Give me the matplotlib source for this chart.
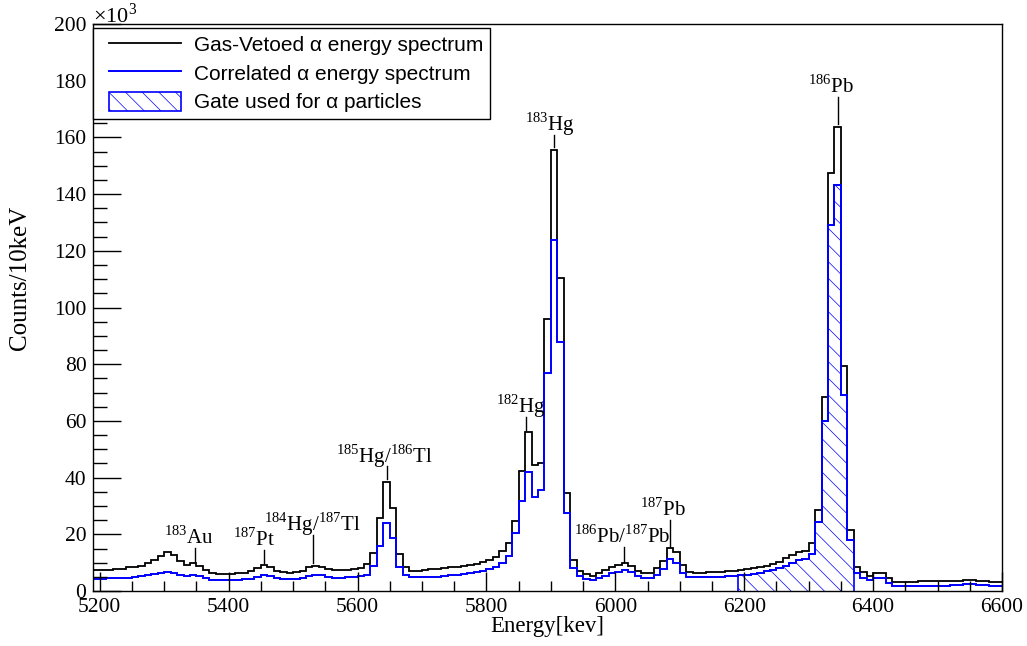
import numpy as np
import matplotlib.pyplot as plt
from matplotlib.lines import Line2D
from matplotlib.patches import Patch
from matplotlib.legend_handler import HandlerLine2D, HandlerPatch
from matplotlib.ticker import MultipleLocator

plt.rcParams['font.family'] = ['Liberation Serif', 'DejaVu Serif']
plt.rcParams['mathtext.fontset'] = 'custom'
plt.rcParams['mathtext.rm'] = 'Liberation Serif'
plt.rcParams['hatch.color'] = 'blue'
plt.rcParams['hatch.linewidth'] = 0.5

# 10 keV bins from 5190 to 6600 keV, counts in units of 10^3
e_lo, e_hi, bin_w = 5190, 6600, 10
gas_vetoed = [
    7.3, 7.4, 7.5, 7.7, 7.9, 8.3, 8.6, 9.0, 9.8, 10.9,        # 5190-5280
    12.5, 13.9, 12.7, 10.5, 9.2, 9.8, 9.0, 7.5, 6.3, 6.1,     # 5290-5380
    6.1, 6.1, 6.2, 6.5, 7.0, 8.0, 9.1, 8.3, 7.2, 6.6,         # 5390-5480
    6.5, 6.6, 7.2, 8.5, 9.0, 8.5, 7.8, 7.5, 7.4, 7.5,         # 5490-5580
    7.6, 8.0, 9.5, 13.5, 25.8, 38.3, 29.3, 13.2, 8.4, 7.2,    # 5590-5680
    7.2, 7.4, 7.6, 7.8, 8.0, 8.3, 8.6, 8.9, 9.3, 9.7,         # 5690-5780
    10.2, 11.0, 12.1, 14.0, 16.8, 24.8, 42.4, 56.0, 44.3, 45.3,  # 5790-5880
    96.0, 155.6, 110.4, 34.5, 10.9, 7.2, 6.0, 5.3, 6.2, 7.4,  # 5890-5980
    8.6, 9.2, 9.8, 8.9, 7.2, 6.2, 6.5, 8.0, 10.6, 15.1,       # 5990-6080
    13.6, 9.2, 6.8, 6.5, 6.5, 6.6, 6.7, 6.8, 7.0, 7.2,        # 6090-6180
    7.4, 7.7, 8.0, 8.3, 8.8, 9.4, 10.4, 11.6, 12.8, 13.6,     # 6190-6280
    14.2, 16.8, 28.5, 68.5, 147.5, 163.6, 79.4, 21.7, 8.5, 6.8,  # 6290-6380
    5.3, 6.2, 6.2, 4.5, 3.3, 3.3, 3.3, 3.3, 3.4, 3.4,         # 6390-6480
    3.4, 3.5, 3.5, 3.6, 3.7, 3.8, 3.8, 3.6, 3.4, 3.2,         # 6490-6580
    3.1,                                                      # 6590
]
correlated = [
    4.4, 4.4, 4.5, 4.5, 4.6, 4.7, 4.9, 5.2, 5.6, 5.9,
    6.4, 6.8, 6.3, 5.6, 5.2, 5.7, 5.4, 4.5, 4.0, 3.9,
    3.9, 3.9, 4.0, 4.1, 4.3, 4.9, 5.6, 5.2, 4.5, 4.2,
    4.2, 4.3, 4.6, 5.3, 5.8, 5.5, 5.0, 4.7, 4.7, 4.8,
    4.9, 5.2, 5.6, 8.9, 15.9, 23.9, 18.6, 8.6, 5.6, 5.0,
    4.9, 4.9, 5.0, 5.1, 5.3, 5.5, 5.7, 6.0, 6.3, 6.7,
    7.2, 7.6, 8.5, 9.8, 12.2, 20.5, 31.9, 42.1, 33.1, 35.7,
    76.8, 123.9, 88.0, 27.4, 8.0, 5.3, 4.2, 3.9, 4.5, 5.3,
    6.2, 6.8, 7.4, 6.8, 5.3, 4.5, 4.6, 5.6, 7.6, 11.2,
    10.0, 6.5, 5.1, 4.8, 4.8, 4.9, 5.0, 5.1, 5.3, 5.4,
    5.6, 5.8, 6.1, 6.5, 7.0, 7.5, 8.2, 9.0, 9.9, 10.8,
    11.3, 13.0, 24.2, 59.9, 129.2, 143.2, 69.2, 18.0, 6.3, 4.7,
    3.9, 4.5, 4.5, 2.7, 1.8, 1.8, 1.8, 1.8, 1.8, 1.8,
    1.8, 1.9, 1.9, 2.0, 2.2, 2.4, 2.4, 2.2, 2.0, 1.8,
    1.8,
]
gate_lo, gate_hi = 6190, 6370

# peak labels: text, marker energy, text centre energy, marker bottom, marker top
peak_labels = [
    (r'$^{183}$Au', 5347, 5338, 10.2, 15.2),
    (r'$^{187}$Pt', 5455, 5439, 9.9, 14.5),
    (r'$^{184}$Hg/$^{187}$Tl', 5531, 5530, 9.9, 19.8),
    (r'$^{185}$Hg/$^{186}$Tl', 5645, 5641, 39.5, 44.1),
    (r'$^{182}$Hg', 5862, 5854, 56.8, 61.4),
    (r'$^{183}$Hg', 5905, 5899, 156.7, 161.0),
    (r'$^{186}$Pb/$^{187}$Pb', 6014, 6011, 10.3, 15.6),
    (r'$^{187}$Pb', 6085, 6074, 15.6, 25.1),
    (r'$^{186}$Pb', 6345, 6334, 164.8, 174.4),
]

edges = np.arange(e_lo, e_hi + bin_w, bin_w)
gas_vetoed = np.array(gas_vetoed)
correlated = np.array(correlated)

fig = plt.figure(figsize=(10.27, 6.46), dpi=100)
ax = fig.add_axes([0.0909, 0.0851, 0.8848, 0.8777])

# hatched gate under the correlated spectrum
in_gate = (edges[:-1] >= gate_lo) & (edges[:-1] < gate_hi)
gate_edges = np.append(edges[:-1][in_gate], gate_hi)
ax.stairs(correlated[in_gate], gate_edges, baseline=0, fill=True,
          facecolor='none', edgecolor='blue', hatch='\\\\', linewidth=1.2)

ax.stairs(gas_vetoed, edges, baseline=None, color='black', linewidth=1.3)
ax.stairs(correlated, edges, baseline=None, color='blue', linewidth=1.4)

for text, e_mark, e_text, y0, y1 in peak_labels:
    ax.plot([e_mark, e_mark], [y0, y1], color='black', linewidth=1.0)
    ax.text(e_text, y1 + 1.3, text, ha='center', va='baseline', fontsize=15)

ax.set_xlim(e_lo, e_hi)
ax.set_ylim(0, 200)
ax.xaxis.set_major_locator(MultipleLocator(200))
ax.xaxis.set_minor_locator(MultipleLocator(50))
ax.yaxis.set_major_locator(MultipleLocator(20))
ax.yaxis.set_minor_locator(MultipleLocator(5))
ax.tick_params(axis='both', which='both', direction='in', labelsize=15.5,
               top=False, right=False, width=1.0)
ax.tick_params(axis='x', which='major', length=13.5, pad=5)
ax.tick_params(axis='x', which='minor', length=7)
ax.tick_params(axis='y', which='major', length=20, pad=5)
ax.tick_params(axis='y', which='minor', length=10)
for side in ax.spines.values():
    side.set_linewidth(1.0)

ax.set_xlabel('Energy[kev]', fontsize=16.5, labelpad=-1)
fig.text(0.0195, 0.57, 'Counts/10keV', rotation=90, ha='center', va='center',
         fontsize=18)
ax.text(0.0, 1.002, '×10$^{3}$', transform=ax.transAxes, ha='left',
        va='baseline', fontsize=16)

handles = [
    Line2D([], [], color='black', linewidth=1.3),
    Line2D([], [], color='blue', linewidth=1.4),
    Patch(facecolor='none', edgecolor='blue', hatch='\\\\', linewidth=1.2),
]
names = ['Gas-Vetoed α energy spectrum', 'Correlated α energy spectrum',
         'Gate used for α particles']
leg = ax.legend(handles, names, loc='upper left', bbox_to_anchor=(0.0, 0.993),
                borderaxespad=0, frameon=True, fancybox=False, edgecolor='black',
                framealpha=1, prop={'family': 'Liberation Sans', 'size': 15.0},
                handlelength=3.9, handleheight=1.05, handletextpad=0.65,
                labelspacing=0.38, borderpad=0.3,
                handler_map={Line2D: HandlerLine2D(xpad=0.45),
                             Patch: HandlerPatch(xpad=0.45)})
leg.get_frame().set_linewidth(1.0)

fig.savefig('out.png', dpi=100)
